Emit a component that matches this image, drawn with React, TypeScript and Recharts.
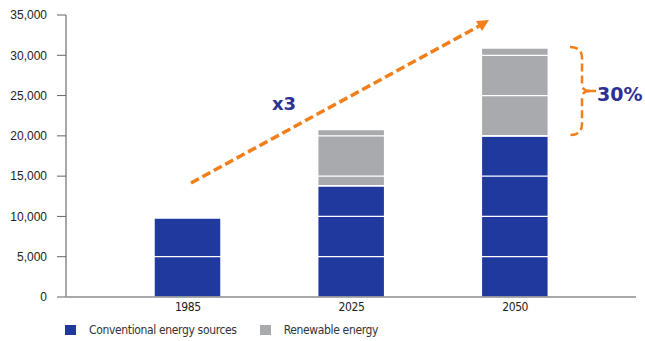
import { BarChart, Bar, XAxis, YAxis, ReferenceLine } from 'recharts';

const years = ['1985', '2025', '2050'];
const conventional = [9800, 13800, 20000];
const renewable = [0, 7000, 10900];
const yTicks = [0, 5000, 10000, 15000, 20000, 25000, 30000, 35000];
const seriesNames = ['Conventional energy sources', 'Renewable energy'];

const data = years.map((year, i) => ({
  year,
  conventional: conventional[i],
  renewable: renewable[i],
}));

const BLUE = '#1f399f';
const GREY = '#a9aaad';
const ORANGE = '#f07f1c';
const NAVY = '#2e3192';
const NARROW = "'DejaVu Sans Condensed', sans-serif";
const legendColors = [BLUE, GREY];

export default function App() {
  return (
    <div style={{ position: 'absolute', left: 0, top: 0, width: 645, height: 341, background: '#fff' }}>
      <BarChart width={645} height={341} data={data} margin={{ top: 15, right: 9, bottom: 30, left: 0 }}>
        <XAxis
          dataKey="year"
          padding={{ left: 40, right: 39 }}
          axisLine={{ stroke: '#555', strokeWidth: 1 }}
          tickLine={false}
          tickSize={0}
          tick={{ fontSize: 12, fill: '#222', fontFamily: NARROW, letterSpacing: -0.4 }}
          tickMargin={5}
          height={14}
        />
        <YAxis
          domain={[0, 35000]}
          ticks={yTicks}
          width={66}
          interval={0}
          axisLine={{ stroke: '#a8a8a8', strokeWidth: 2 }}
          tickLine={{ stroke: '#666' }}
          tickSize={9}
          tickMargin={10}
          tick={{ fontSize: 12, fill: '#222', fontFamily: 'Liberation Sans, sans-serif' }}
          tickFormatter={(v: number) => v.toLocaleString('en-US')}
        />
        <Bar dataKey="conventional" name={seriesNames[0]} stackId="a" fill={BLUE} stroke="#fff" strokeWidth={1.5} barSize={67} isAnimationActive={false} />
        <Bar dataKey="renewable" name={seriesNames[1]} stackId="a" fill={GREY} stroke="#fff" strokeWidth={1.5} barSize={67} isAnimationActive={false} />
        {yTicks.slice(1, -1).map((v) => (
          <ReferenceLine key={v} y={v} stroke="#fff" strokeWidth={1.2} />
        ))}
      </BarChart>
      <div
        style={{
          position: 'absolute',
          left: 65,
          top: 323,
          display: 'flex',
          alignItems: 'center',
          fontFamily: NARROW,
          fontSize: 12,
          letterSpacing: -0.35,
          color: '#333',
        }}
      >
        {seriesNames.map((name, i) => (
          <div key={name} style={{ display: 'flex', alignItems: 'center', marginRight: i === 0 ? 23 : 0 }}>
            <span style={{ width: 11, height: 10, background: legendColors[i], display: 'inline-block', marginRight: 13 }} />
            <span>{name}</span>
          </div>
        ))}
      </div>
      <svg width={645} height={341} style={{ position: 'absolute', left: 0, top: 0, pointerEvents: 'none' }}>
        <line x1={191} y1={183} x2={481} y2={25} stroke={ORANGE} strokeWidth={3.5} strokeDasharray="9 4" />
        <polygon points="489,20 476,21 482,31" fill={ORANGE} />
        <text x={272} y={110} fontFamily="DejaVu Sans, sans-serif" fontWeight="bold" fontSize={18} fill={NAVY}>x3</text>
        <path
          d="M570,47 Q582,47 582,58 L582,84 Q582,91 590,91 M590,91 Q582,91 582,98 L582,124 Q582,135 570,135"
          fill="none"
          stroke={ORANGE}
          strokeWidth={2.5}
          strokeDasharray="8 4"
        />
        <line x1={588} y1={91} x2={596} y2={91} stroke={ORANGE} strokeWidth={2.5} />
        <text x={597} y={101} fontFamily="DejaVu Sans, sans-serif" fontWeight="bold" fontSize={19} fill={NAVY}>30%</text>
      </svg>
    </div>
  );
}
